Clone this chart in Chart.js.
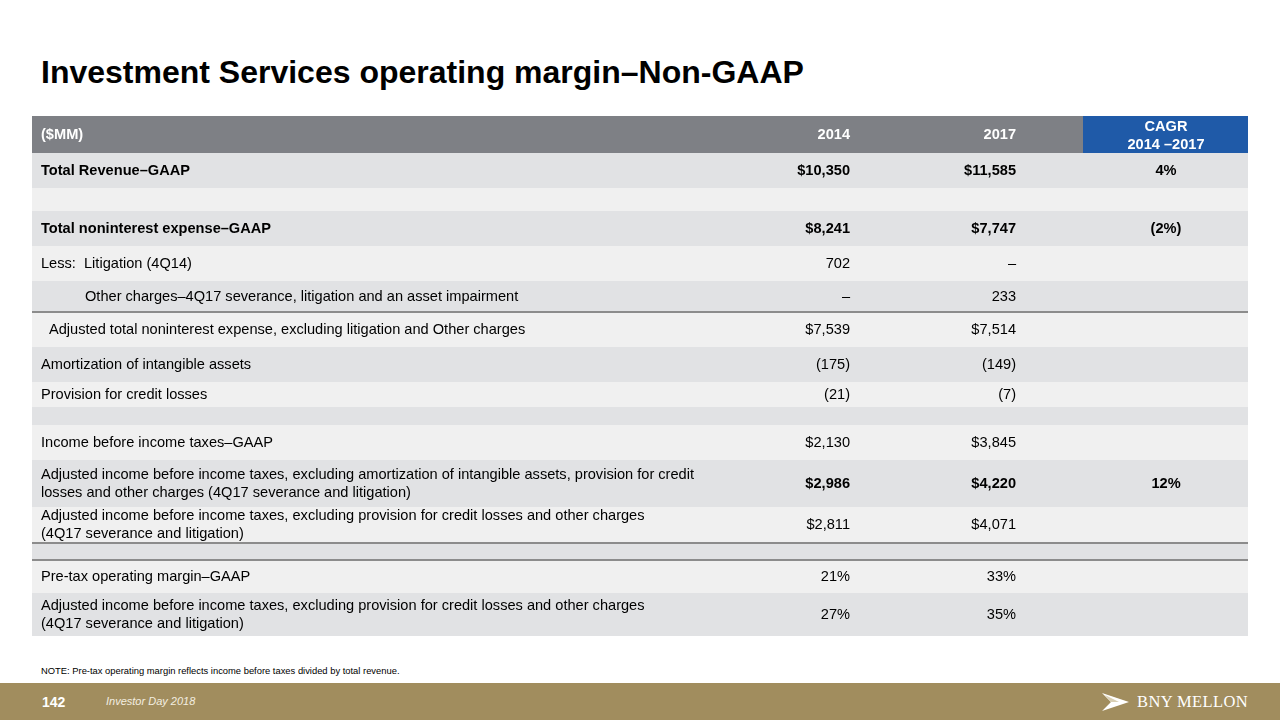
<!DOCTYPE html>
<html>
<head>
<meta charset="utf-8">
<script src="https://cdn.jsdelivr.net/npm/chart.js@4.4.0/dist/chart.umd.min.js"></script>
<style>
  body { margin: 0; width: 1280px; height: 720px; position: relative; background: #fff; overflow: hidden; font-family: "Liberation Sans", Arial, sans-serif; }
  #title { position: absolute; left: 41px; top: 56px; font-size: 32px; font-weight: bold; color: #000; line-height: 32px; white-space: nowrap; }
  #table-wrap { position: absolute; left: 32px; top: 116px; width: 1216px; height: 520px; }
  #note { position: absolute; left: 41px; top: 665px; font-size: 9.4px; color: #000; white-space: nowrap; }
  #footer { position: absolute; left: 0; top: 683px; width: 1280px; height: 37px; background: #a18d5e; }
  #page-num { position: absolute; left: 42px; top: 11px; font-size: 14px; font-weight: bold; color: #fff; }
  #event { position: absolute; left: 106px; top: 12px; font-size: 11px; font-style: italic; color: #f3eee0; }
  #logo { position: absolute; left: 1102px; top: 8px; height: 22px; display: flex; align-items: center; }
  #logo span { font-family: "Liberation Serif", "DejaVu Serif", serif; font-size: 16.5px; color: #fff; margin-left: 8px; letter-spacing: 0.4px; }
</style>
</head>
<body>
<div id="title">Investment Services operating margin–Non-GAAP</div>
<div id="table-wrap"><canvas id="tableChart"></canvas></div>
<div id="note">NOTE: Pre-tax operating margin reflects income before taxes divided by total revenue.</div>
<div id="footer">
  <div id="page-num">142</div>
  <div id="event">Investor Day 2018</div>
  <div id="logo">
    <svg width="27" height="18" viewBox="0 0 27 18"><polygon points="0,0 27,9 0,18 9,9" fill="#fff"/><polygon points="3,2 17,9 9,9" fill="#d9cfb4"/></svg>
    <span>BNY MELLON</span>
  </div>
</div>
<script>
// table contents
const columnHeaders = ['($MM)', '2014', '2017', 'CAGR\n2014 –2017'];
const rowLabels = [
    'Total Revenue–GAAP',
    '',
    'Total noninterest expense–GAAP',
    'Less:  Litigation (4Q14)',
    'Other charges–4Q17 severance, litigation and an asset impairment',
    'Adjusted total noninterest expense, excluding litigation and Other charges',
    'Amortization of intangible assets',
    'Provision for credit losses',
    '',
    'Income before income taxes–GAAP',
    'Adjusted income before income taxes, excluding amortization of intangible assets, provision for credit\nlosses and other charges (4Q17 severance and litigation)',
    'Adjusted income before income taxes, excluding provision for credit losses and other charges\n(4Q17 severance and litigation)',
    '',
    'Pre-tax operating margin–GAAP',
    'Adjusted income before income taxes, excluding provision for credit losses and other charges\n(4Q17 severance and litigation)'
];
const values2014 = ['$10,350', '', '$8,241', '702', '–', '$7,539', '(175)', '(21)', '', '$2,130', '$2,986', '$2,811', '', '21%', '27%'];
const values2017 = ['$11,585', '', '$7,747', '–', '233', '$7,514', '(149)', '(7)', '', '$3,845', '$4,220', '$4,071', '', '33%', '35%'];
const cagr = ['4%', '', '(2%)', '', '', '', '', '', '', '', '12%', '', '', '', ''];

// layout (table units = px inside the chart area)
const TABLE_W = 1216;
const headerHeight = 37;
const rowHeights = [35, 23, 35, 35, 31, 35, 35, 25, 18, 35, 47, 36, 17, 33, 43];
const boldLabelRows = [0, 2];
const boldValueRows = [0, 2, 10];
const indents = { 4: 44, 5: 8 };
const ruleAbove = [5, 12, 13];
const labelX = 9;
const col2014Right = 818;
const col2017Right = 984;
const cagrCenter = 1134;
const cagrCellLeft = 1051;
const TOTAL_H = headerHeight + rowHeights.reduce((a, b) => a + b, 0);

const FONT = '"Liberation Sans", Arial, sans-serif';
const SIZE = '14.6px ';

function rowTops() {
    const tops = [];
    let y = headerHeight;
    rowHeights.forEach(h => { tops.push(y); y += h; });
    return tops;
}

function drawText(ctx, text, px, py, align, lineH) {
    const lines = text.split('\n');
    ctx.textAlign = align;
    lines.forEach((ln, i) => {
        ctx.fillText(ln, px, py + (i - (lines.length - 1) / 2) * lineH);
    });
}

const tablePlugin = {
    id: 'tablePlugin',
    beforeDatasetsDraw(chart) {
        const ctx = chart.ctx;
        const x = chart.scales.x;
        const y = chart.scales.y;
        const px = v => x.getPixelForValue(v);
        const py = v => y.getPixelForValue(v);
        ctx.save();

        // header band
        ctx.fillStyle = '#7e8085';
        ctx.fillRect(px(0), py(0), px(TABLE_W) - px(0), py(headerHeight) - py(0));
        ctx.fillStyle = '#1f5aa8';
        ctx.fillRect(px(cagrCellLeft), py(0), px(TABLE_W) - px(cagrCellLeft), py(headerHeight) - py(0));

        ctx.fillStyle = '#ffffff';
        ctx.textBaseline = 'middle';
        ctx.font = 'bold ' + SIZE + FONT;
        const hMid = py(headerHeight / 2);
        drawText(ctx, columnHeaders[0], px(labelX), hMid, 'left', 18);
        drawText(ctx, columnHeaders[1], px(col2014Right), hMid, 'right', 18);
        drawText(ctx, columnHeaders[2], px(col2017Right), hMid, 'right', 18);
        drawText(ctx, columnHeaders[3], px(cagrCenter), hMid + 1, 'center', 18);

        // body rows
        const tops = rowTops();
        rowLabels.forEach((label, i) => {
            const top = tops[i];
            const h = rowHeights[i];
            ctx.fillStyle = i % 2 === 0 ? '#e1e2e4' : '#f0f0f0';
            ctx.fillRect(px(0), py(top), px(TABLE_W) - px(0), py(top + h) - py(top));

            const mid = py(top + h / 2);
            ctx.fillStyle = '#000000';
            ctx.font = (boldLabelRows.includes(i) ? 'bold ' : '') + SIZE + FONT;
            drawText(ctx, label, px(labelX + (indents[i] || 0)), mid, 'left', 18);
            ctx.font = (boldValueRows.includes(i) ? 'bold ' : '') + SIZE + FONT;
            drawText(ctx, values2014[i], px(col2014Right), mid, 'right', 18);
            drawText(ctx, values2017[i], px(col2017Right), mid, 'right', 18);
            drawText(ctx, cagr[i], px(cagrCenter), mid, 'center', 18);
        });

        // rules
        ctx.strokeStyle = '#8c8c8c';
        ctx.lineWidth = 2;
        ruleAbove.forEach(i => {
            const yy = Math.round(py(tops[i]));
            ctx.beginPath();
            ctx.moveTo(px(0), yy);
            ctx.lineTo(px(TABLE_W), yy);
            ctx.stroke();
        });
        ctx.restore();
    }
};

new Chart(document.getElementById('tableChart'), {
    type: 'scatter',
    data: { datasets: [{ data: [], pointRadius: 0 }] },
    options: {
        responsive: true,
        maintainAspectRatio: false,
        animation: false,
        layout: { padding: 0 },
        scales: {
            x: { type: 'linear', min: 0, max: TABLE_W, display: false },
            y: { type: 'linear', min: 0, max: TOTAL_H, reverse: true, display: false }
        },
        plugins: { legend: { display: false }, tooltip: { enabled: false } }
    },
    plugins: [tablePlugin]
});
</script>
</body>
</html>
